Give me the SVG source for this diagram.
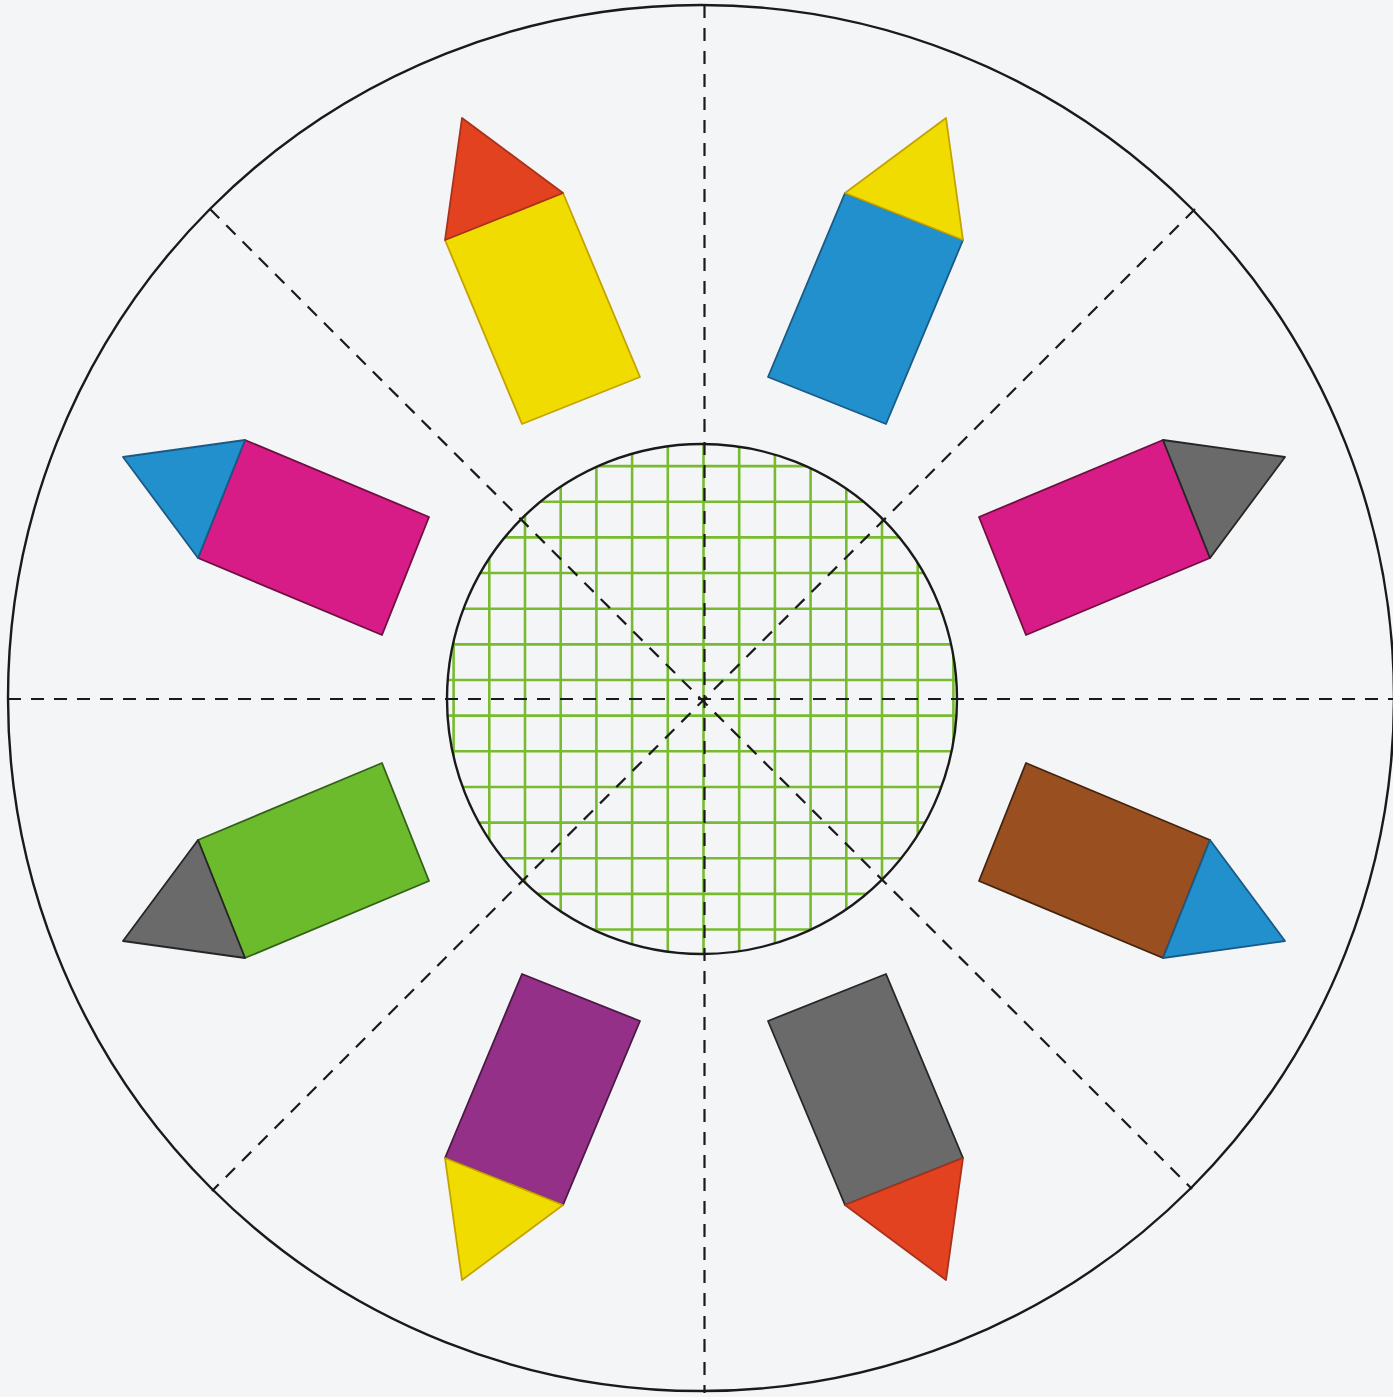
<svg xmlns="http://www.w3.org/2000/svg" width="1393" height="1397" viewBox="0 0 1393 1397">
<style>
.dash{stroke:#1a1a1a;stroke-width:2.2;stroke-dasharray:13 10;fill:none}
.ring{fill:none;stroke:#1a1a1a;stroke-width:2.4}
.grid{stroke:#78bb30;stroke-width:2.6;fill:none}
.sh{stroke-width:1.8;stroke-linejoin:round}
.red{fill:#e2421f;stroke:#a8321a}
.yel{fill:#f1dc02;stroke:#c4a300}
.blu{fill:#2190cd;stroke:#1a5a85}
.mag{fill:#d81c87;stroke:#6e1040}
.gry{fill:#6a6a6a;stroke:#262626}
.grn{fill:#6cbb2c;stroke:#34601a}
.brn{fill:#9a4f20;stroke:#43240e}
.pur{fill:#953088;stroke:#4d1846}
</style>
<defs>
<clipPath id="innerClip"><circle cx="702" cy="699" r="255"/></clipPath>
</defs>
<rect width="1393" height="1397" fill="#f4f5f7"/>
<g id="outer-circle"><circle class="ring" cx="701" cy="698" r="693"/></g>
<g id="inner-grid" clip-path="url(#innerClip)">
<path class="grid" d="M453.6 440V960M489.3 440V960M525 440V960M560.7 440V960M596.4 440V960M632.1 440V960M667.8 440V960M703.5 440V960M739.2 440V960M774.9 440V960M810.6 440V960M846.3 440V960M882 440V960M917.7 440V960M953.4 440V960M440 466.1H965M440 501.75H965M440 537.4H965M440 573H965M440 608.7H965M440 644.35H965M440 680H965M440 715.65H965M440 751.3H965M440 787H965M440 822.6H965M440 858.25H965M440 893.9H965M440 929.55H965"/>
</g>
<g id="connectors">
<line class="dash" x1="704.5" y1="5" x2="704.5" y2="1393"/>
<line class="dash" x1="8" y1="699" x2="1393" y2="699"/>
<line class="dash" x1="210" y1="209" x2="1192" y2="1189"/>
<line class="dash" x1="1195" y1="209" x2="212" y2="1191"/>
</g>
<g id="inner-circle"><circle class="ring" cx="702" cy="699" r="255"/></g>
<g id="pencil-top-left" transform="matrix(1,0,0,1,704,699)">
<polygon class="sh yel" points="-259,-459 -141,-506 -64,-322 -182,-275"/>
<polygon class="sh red" points="-242,-581 -259,-459 -141,-506"/>
</g>
<g id="pencil-top-right" transform="matrix(-1,0,0,1,704,699)">
<polygon class="sh blu" points="-259,-459 -141,-506 -64,-322 -182,-275"/>
<polygon class="sh yel" points="-242,-581 -259,-459 -141,-506"/>
</g>
<g id="pencil-left-upper" transform="matrix(0,1,1,0,704,699)">
<polygon class="sh mag" points="-259,-459 -141,-506 -64,-322 -182,-275"/>
<polygon class="sh blu" points="-242,-581 -259,-459 -141,-506"/>
</g>
<g id="pencil-right-upper" transform="matrix(0,1,-1,0,704,699)">
<polygon class="sh mag" points="-259,-459 -141,-506 -64,-322 -182,-275"/>
<polygon class="sh gry" points="-242,-581 -259,-459 -141,-506"/>
</g>
<g id="pencil-left-lower" transform="matrix(0,-1,1,0,704,699)">
<polygon class="sh grn" points="-259,-459 -141,-506 -64,-322 -182,-275"/>
<polygon class="sh gry" points="-242,-581 -259,-459 -141,-506"/>
</g>
<g id="pencil-right-lower" transform="matrix(0,-1,-1,0,704,699)">
<polygon class="sh brn" points="-259,-459 -141,-506 -64,-322 -182,-275"/>
<polygon class="sh blu" points="-242,-581 -259,-459 -141,-506"/>
</g>
<g id="pencil-bottom-left" transform="matrix(1,0,0,-1,704,699)">
<polygon class="sh pur" points="-259,-459 -141,-506 -64,-322 -182,-275"/>
<polygon class="sh yel" points="-242,-581 -259,-459 -141,-506"/>
</g>
<g id="pencil-bottom-right" transform="matrix(-1,0,0,-1,704,699)">
<polygon class="sh gry" points="-259,-459 -141,-506 -64,-322 -182,-275"/>
<polygon class="sh red" points="-242,-581 -259,-459 -141,-506"/>
</g>
</svg>
